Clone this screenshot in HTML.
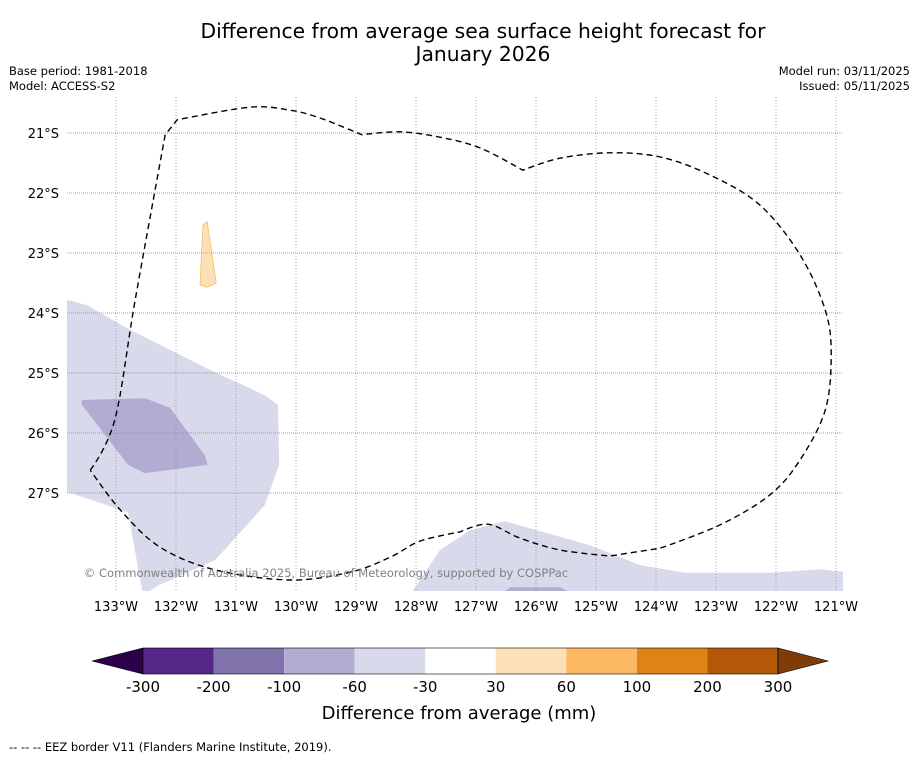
<!DOCTYPE html>
<html><head><meta charset="utf-8"><style>
body{margin:0;background:#fff;font-family:"Liberation Sans","DejaVu Sans",sans-serif}
svg text{font-family:"DejaVu Sans","Liberation Sans",sans-serif}
</style></head><body>
<svg id="c" width="919" height="758" viewBox="0 0 919 758">
<text x="483" y="38" font-size="20.3" text-anchor="middle">Difference from average sea surface height forecast for</text>
<text x="483" y="61" font-size="20.3" text-anchor="middle">January 2026</text>
<text x="9" y="75" font-size="11.5">Base period: 1981-2018</text>
<text x="9" y="90" font-size="11.5">Model: ACCESS-S2</text>
<text x="910" y="75" font-size="11.5" text-anchor="end">Model run: 03/11/2025</text>
<text x="910" y="90" font-size="11.5" text-anchor="end">Issued: 05/11/2025</text>
<defs><clipPath id="mc"><rect x="67" y="97" width="776" height="494"/></clipPath></defs>
<g id="map" clip-path="url(#mc)"></g>
<g id="axes"></g>
<text x="326" y="577" font-size="11.5" fill="#808080" text-anchor="middle">© Commonwealth of Australia 2025, Bureau of Meteorology, supported by COSPPac</text>
<g id="cbar"></g>
<text x="459" y="719" font-size="18" text-anchor="middle">Difference from average (mm)</text>
<text x="9" y="751" font-size="11.5">--  --  -- EEZ border V11 (Flanders Marine Institute, 2019).</text>
</svg>
<script>
const lonTicks=[133,132,131,130,129,128,127,126,125,124,123,122,121];
const latTicks=[21,22,23,24,25,26,27];
const cbLabels=["-300","-200","-100","-60","-30","30","60","100","200","300"];
const cbColors=["#542788","#8073ac","#b2abd2","#d8daeb","#ffffff","#fee0b6","#fdb863","#e08214","#b35806"];
const cbLow="#2d004b", cbHigh="#7f3b08";
const lightWest=[[133.82,23.78],[133.48,23.87],[132.77,24.28],[131.43,24.95],[130.52,25.37],[130.3,25.53],[130.28,26.53],[130.52,27.2],[131.35,28.12],[132.27,28.53],[132.55,28.7],[132.8,27.32],[133.82,26.98]];
const darkWest=[[133.57,25.45],[132.52,25.42],[132.1,25.58],[131.52,26.37],[131.47,26.53],[132.52,26.67],[132.8,26.53],[133.57,25.53]];
const lightSouth=[[128.1,28.7],[127.6,27.95],[127.1,27.62],[126.52,27.47],[125.1,27.87],[124.27,28.2],[123.52,28.33],[122.1,28.33],[121.27,28.27],[120.8,28.32],[120.8,28.7]];
const darkSouth=[[126.6,28.7],[126.43,28.57],[125.6,28.57],[125.35,28.7]];
const orangeNorth=[[131.6,23.53],[131.55,22.53],[131.48,22.48],[131.33,23.5],[131.48,23.57]];
const eez=[[133.43,26.62],[133.02,25.78],[132.68,23.78],[132.18,21.03],[131.98,20.78],[130.77,20.57],[130.1,20.62],[129.6,20.75],[128.9,21.03],[128.27,20.98],[127.6,21.07],[126.93,21.25],[126.22,21.62],[125.6,21.42],[124.77,21.33],[123.93,21.4],[123.1,21.7],[122.27,22.2],[121.6,23.03],[121.18,23.95],[121.08,24.7],[121.18,25.62],[121.6,26.45],[122.1,27.03],[122.93,27.53],[123.93,27.92],[124.77,28.05],[125.6,27.95],[126.27,27.75],[126.8,27.52],[127.27,27.65],[127.93,27.8],[128.43,28.07],[129.1,28.32],[130.1,28.45],[131.35,28.28],[132.27,27.9],[132.93,27.28],[133.43,26.62]];
const eezCorners=[0,3,4,8,12,25,26,30];
const NS="http://www.w3.org/2000/svg";
const X=w=>116+(133-w)*60, Y=s=>133+(s-21)*60;
function mk(t,a,p){const e=document.createElementNS(NS,t);for(const k in a)e.setAttribute(k,a[k]);p.appendChild(e);return e;}
const map=document.getElementById('map'), axes=document.getElementById('axes'), cb=document.getElementById('cbar');
const pts=arr=>arr.map(p=>X(p[0]).toFixed(1)+','+Y(p[1]).toFixed(1)).join(' ');
function smooth(arr,corners){
 const P=arr.map(p=>[X(p[0]),Y(p[1])]);let d='M'+P[0].join(',');
 for(let i=0;i<P.length-1;i++){
  const p0=P[Math.max(i-1,0)],p1=P[i],p2=P[i+1],p3=P[Math.min(i+2,P.length-1)];
  const k1=corners.includes(i)?0:1/6,k2=corners.includes(i+1)?0:1/6;
  const c1=[p1[0]+(p2[0]-p0[0])*k1,p1[1]+(p2[1]-p0[1])*k1];
  const c2=[p2[0]-(p3[0]-p1[0])*k2,p2[1]-(p3[1]-p1[1])*k2];
  d+=` C${c1[0].toFixed(1)},${c1[1].toFixed(1)} ${c2[0].toFixed(1)},${c2[1].toFixed(1)} ${p2[0].toFixed(1)},${p2[1].toFixed(1)}`;
 }
 return d;
}
let e;
e=mk('polygon',{points:pts(lightWest),fill:'#d8daeb'},map);


e=mk('polygon',{points:pts(darkWest),fill:'#b2abd2'},map);


e=mk('polygon',{points:pts(lightSouth),fill:'#d8daeb'},map);


e=mk('polygon',{points:pts(darkSouth),fill:'#b2abd2'},map);


e=mk('polygon',{points:pts(orangeNorth),fill:'#fee0b6',stroke:'#fdb863','stroke-width':0.8},map);


lonTicks.forEach(l=>{
 e=mk('line',{x1:X(l),x2:X(l),y1:97,y2:591,stroke:'#888','stroke-width':0.7,'stroke-dasharray':'1,2'},axes);
 
 
 e=mk('text',{x:X(l),y:611,'font-size':13,'text-anchor':'middle'},axes);e.textContent=l+'°W';
 
 
});
latTicks.forEach(l=>{
 e=mk('line',{x1:67,x2:843,y1:Y(l),y2:Y(l),stroke:'#888','stroke-width':0.7,'stroke-dasharray':'1,1'},axes);
 
 
 e=mk('text',{x:59,y:Y(l)+5,'font-size':13,'text-anchor':'end'},axes);e.textContent=l+'°S';
 
 
});
e=mk('path',{d:smooth(eez,eezCorners),fill:'none',stroke:'#000','stroke-width':1.4,'stroke-dasharray':'6,4'},axes);


const x0=143,x1=778,y0=648,h=26,bw=(x1-x0)/cbColors.length;
e=mk('polygon',{points:`92,${y0+h/2} ${x0},${y0} ${x0},${y0+h}`,fill:cbLow,stroke:'#000','stroke-width':0.6},cb);


cbColors.forEach((c,i)=>{
 e=mk('rect',{x:x0+i*bw,y:y0,width:bw,height:h,fill:c},cb);
 
 
});
e=mk('polygon',{points:`${x1},${y0} 828,${y0+h/2} ${x1},${y0+h}`,fill:cbHigh,stroke:'#000','stroke-width':0.6},cb);


mk('rect',{x:x0,y:y0,width:x1-x0,height:h,fill:'none',stroke:'#000','stroke-width':0.6},cb);
cbLabels.forEach((t,i)=>{
 e=mk('text',{x:x0+i*bw,y:692,'font-size':15,'text-anchor':'middle'},cb);e.textContent=t;
 
 
});
</script>
</body></html>
